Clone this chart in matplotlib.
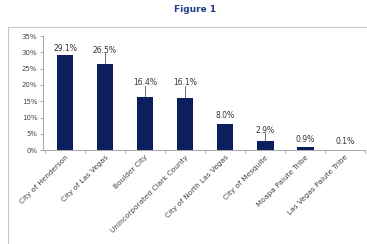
import matplotlib.pyplot as plt
from matplotlib.patches import Rectangle

# share of population by jurisdiction
places = ['City of Henderson', 'City of Las Vegas', 'Boulder City',
          'Unincorporated Clark County', 'City of North Las Vegas',
          'City of Mesquite', 'Moapa Paiute Tribe', 'Las Vegas Paiute Tribe']
shares = [29.1, 26.5, 16.4, 16.1, 8.0, 2.9, 0.9, 0.1]

# where the value labels sit (in %) and whether a leader line is drawn
label_at = [31.3, 30.7, 20.6, 20.6, 10.7, 6.1, 3.1, 2.5]
leader = [False, True, True, True, False, True, False, False]

navy = '#0b1f5e'

fig = plt.figure(figsize=(3.67, 2.44), dpi=100)

# light frame around the chart
fig.patches.append(Rectangle((0.022, -0.05), 1.05, 0.939, transform=fig.transFigure,
                             fill=False, edgecolor='#c8c8c8', linewidth=0.8))

fig.text(0.532, 0.962, 'Figure 1', ha='center', va='center', fontsize=6.5,
         fontweight='bold', color='#1f3e8a')

ax = fig.add_axes([0.117, 0.385, 0.878, 0.467])
x = list(range(len(places)))
ax.bar(x, shares, width=0.42, color=navy, zorder=2)

for i, v in enumerate(shares):
    ax.text(i, label_at[i], f'{v:.1f}%', ha='center', va='center',
            fontsize=5.5, color='#333333')
    if leader[i]:
        ax.plot([i, i], [label_at[i] - 1.0, v], color='#333333', lw=0.5)

ax.set_xlim(-0.55, 7.5)
ax.set_ylim(0, 35)
ax.set_yticks(range(0, 36, 5))
ax.set_yticklabels([f'{t}%' for t in range(0, 36, 5)], fontsize=5, color='#444444')
ax.set_xticks(x)
ax.set_xticklabels(places, rotation=45, ha='right', rotation_mode='anchor',
                   fontsize=5.3, color='#444444')
ax.set_xticks([i + 0.5 for i in range(-1, len(places))], minor=True)
ax.tick_params(axis='x', which='major', length=0, pad=3)
ax.tick_params(axis='x', which='minor', length=2, color='#999999', width=0.6)
ax.tick_params(axis='y', length=2, color='#999999', width=0.6, pad=2)

for side in ['top', 'right']:
    ax.spines[side].set_visible(False)
for side in ['left', 'bottom']:
    ax.spines[side].set_color('#999999')
    ax.spines[side].set_linewidth(0.6)

fig.savefig('out.png', dpi=100)
